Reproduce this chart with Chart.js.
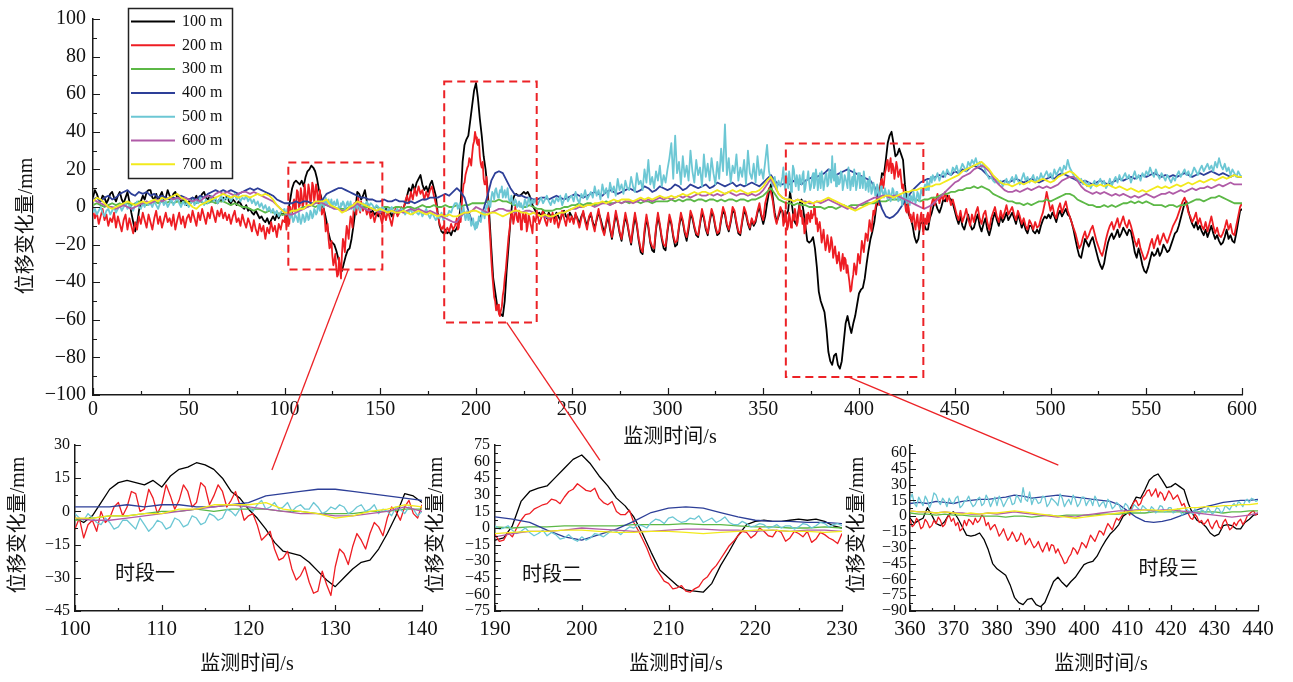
<!DOCTYPE html>
<html><head><meta charset="utf-8">
<script src="https://cdn.jsdelivr.net/npm/chart.js@4.4.1/dist/chart.umd.min.js"></script>
<style>
html,body{margin:0;padding:0;background:#fff;}
#wrap{position:relative;width:1293px;height:682px;overflow:hidden;background:#fff;}
#wrap canvas{position:absolute;left:0;top:0;}
</style></head><body>
<div id="wrap">
<canvas id="c0" width="1293" height="682"></canvas>
<canvas id="c1" width="1293" height="682"></canvas>
<canvas id="c2" width="1293" height="682"></canvas>
<canvas id="c3" width="1293" height="682"></canvas>
<canvas id="ov" width="1293" height="682"></canvas>
</div>
<script>
// ---------------- data ----------------
const SERIES_NAMES = ['100 m','200 m','300 m','400 m','500 m','600 m','700 m'];
const X_TITLE = '监测时间/s';
const Y_TITLE = '位移变化量/mm';
const TAGS = ['时段一','时段二','时段三'];

// 1 s sampling (t = 0..600)
const BLACK = [
5,9,7,4,3,6,5,2,4,7, 8,5,3,6,8,4,2,5,8,3, -3,-8,-13,-9,-2,3,6,4,8,9, 9,5,4,7,3,6,8,4,5,9,
6,4,7,8,5,6,3,4,2,1, 3,2,5,4,6,3,5,7,8,5, 4,6,3,5,4,2,4,3,5,4, 6,3,2,4,3,1,3,2,0,-1,
1,-2,-1,-3,-4,-2,-4,-6,-5,-7, -8,-6,-9,-7,-5,-7,-4,-6,-3,-4,
-3,-5,-2,4,10,13,14,13,12,14, 11,16,19,20,22,21,19,15,9,6, 1,-3,-8,-14,-18,-19,-20,-23,-27,-31,
-34,-30,-26,-23,-22,-17,-10,-2,8,7, 4,6,9,3,-1,-3,-2,-4,-3,-5, -2,-4,-3,-1,-4,-2,-5,-3,-2,-4,
-3,-2,-1,2,6,10,8,12,9,13, 15,17,12,9,11,8,12,14,10,6, -3,-10,-13,-14,-12,-14,-13,-15,-12,-13,
-11,-9,2,24,33,36,38,46,54,62, 66,58,47,38,27,20,10,-5,-22,-38, -45,-52,-56,-57,-58,-50,-34,-21,-7,3,
6,7,6,6,7,8,7,8,6,2, 0,-2,-4,-3,-5,-2,-4,-6,-3,-5, -4,-6,-3,-5,-7,-4,-2,-5,-6,-3,
-5,-8,-4,-6,-9,-5,-3,-7,-10,-6, -4,-8,-11,-7,-3,-6,-10,-14,-9,-5, -12,-17,-10,-4,-8,-14,-18,-11,-5,-9,
-15,-20,-12,-5,-10,-18,-24,-25,-14,-6, -11,-19,-23,-24,-12,-5,-10,-17,-22,-23,
-13,-6,-9,-16,-21,-20,-11,-5,-8,-14, -18,-12,-4,-6,-11,-15,-16,-9,-3,-6, -12,-15,-8,-3,-5,-11,-15,-14,-7,-2,
-4,-10,-13,-8,-2,-3,-9,-14,-15,-8, -2,-4,-9,-12,-7,-10,-8,-3,0,-5, -9,-5,2,8,12,5,-3,-8,-5,-2,
-2,-7,-4,-2,8,1,-7,-9,-5,2, 4,-2,-10,-18,-19,-18,-16,-22,-32,-45, -50,-53,-56,-65,-77,-82,-84,-79,-78,-84,
-86,-82,-72,-62,-58,-63,-67,-62,-58,-52, -46,-44,-43,-38,-30,-23,-17,-13,-8,0, 3,10,18,17,25,34,38,40,34,27,
28,31,28,25,12,2,-4,-6,-10,-16, -19,-17,-9,-8,-9,-12,-12,-6,-3,1, 2,-1,-3,0,4,3,6,5,4,2,
-2,-6,-9,-5,-10,-12,-8,-4,-9,-12, -11,-7,-4,-10,-13,-9,-6,-12,-15,-11, -6,-3,-7,-10,-5,-8,-6,-3,-7,-5,
-3,-6,-9,-4,-7,-11,-8,-12,-14,-10, -10,-13,-14,-12,-14,-10,-7,-5,-6,-4,
-6,-3,-5,-8,-4,-2,-5,-3,-1,-4, -5,-8,-12,-17,-22,-26,-27,-22,-17,-19, -21,-18,-16,-20,-24,-28,-31,-33,-30,-24,
-19,-16,-14,-17,-15,-12,-16,-14,-11,-13, -15,-12,-13,-18,-24,-27,-22,-26,-31,-34, -35,-32,-28,-24,-26,-25,-22,-26,-24,-20,
-22,-24,-23,-20,-17,-14,-13,-10,-6,-2, 2,3,-2,-6,-9,-11,-8,-12,-10,-13, -15,-12,-16,-13,-10,-14,-17,-15,-18,-20,
-19,-16,-12,-17,-15,-18,-19,-14,-8,-2, -1
];
const RED = [
-2,-6,-3,-9,-5,-1,-7,-4,-10,-6, -8,-3,-11,-5,-9,-13,-7,-4,-12,-6, -10,-14,-8,-12,-5,-9,-3,-7,-11,-4,
-8,-12,-6,-2,-9,-5,-11,-7,-3,-8, -6,-10,-4,-12,-7,-3,-9,-5,-11,-6, -4,-8,-2,-6,-10,-3,-7,-1,-5,-9,
-3,-6,0,-4,-8,-2,-5,-1,-6,-3, -7,-4,-9,-5,-2,-8,-6,-10,-4,-8, -11,-6,-9,-13,-7,-12,-15,-9,-13,-10,
-17,-11,-14,-8,-13,-10,-16,-9,-12,-7,
-8,-12,-4,0,-3,4,2,8,1,6, 3,7,5,9,4,11,7,9,5,3, -2,-6,-11,-17,-21,-26,-29,-32,-36,-33,
-25,-19,-16,-13,-10,-7,-3,0,2,-1, 3,-2,1,-4,-1,-6,-3,-8,-4,-2, -5,-9,-3,-7,-2,-6,-10,-4,-1,-5,
-3,0,-2,3,6,2,8,4,10,6, 11,7,9,4,8,5,9,11,6,2, -4,-9,-12,-10,-14,-11,-13,-9,-12,-10,
-6,-11,-8,7,13,19,22,25,28,35, 37,33,27,21,15,12,5,-10,-28,-42, -50,-54,-57,-55,-47,-38,-28,-16,-7,-4,
-6,-3,-8,-4,-9,-5,-3,-10,-6,-11, -5,-8,-3,-9,-6,-2,-7,-10,-4,-8, -3,-9,-5,-11,-7,-2,-6,-10,-4,-8,
-5,-9,-3,-7,-11,-6,-2,-8,-12,-5, -3,-9,-13,-6,-1,-7,-12,-15,-8,-3, -11,-16,-9,-2,-7,-13,-17,-10,-3,-8,
-14,-19,-10,-3,-9,-17,-22,-24,-12,-4, -10,-18,-21,-22,-11,-3,-9,-16,-20,-21,
-12,-4,-8,-15,-19,-18,-10,-3,-7,-13, -16,-10,-2,-5,-10,-14,-15,-8,-1,-5, -11,-14,-7,-1,-4,-10,-14,-13,-6,0,
-3,-9,-12,-7,0,-2,-8,-13,-14,-7, 0,-3,-8,-11,-6,-9,-7,-2,2,-4, -7,2,6,10,8,3,-5,-9,-4,0,
-3,-8,-5,-10,-6,-9,-7,-4,-8,1, -2,-6,-12,-9,-5,-2,-4,-1,-6,-10, -13,-16,-18,-20,-19,-22,-19,-24,-26,-28,
-30,-29,-33,-28,-31,-40,-44,-36,-32,-31, -27,-24,-21,-19,-15,-12,-10,-7,-4,2, 5,9,15,12,20,25,22,18,21,19,
21,18,15,12,2,-3,-1,-4,-6,-9, -7,-10,-6,-8,-11,-9,-3,-5,2,5, 3,7,2,6,4,8,3,6,1,4,
0,-4,-7,-2,-8,-5,-1,-6,-10,-4, -8,-3,0,-6,-9,-4,-2,-8,-12,-6, -3,0,-5,-8,-2,-6,-3,1,-4,-2,
0,-4,-7,-2,-5,-9,-6,-10,-12,-7, -9,-12,-8,-11,-10,-6,-3,2,8,3,
-2,1,-4,-6,-1,2,-3,0,3,-2, -5,-8,-11,-14,-18,-22,-20,-16,-13,-17, -15,-12,-10,-14,-18,-21,-24,-26,-22,-17,
-13,-10,-8,-12,-9,-6,-11,-8,-5,-9, -11,-7,-10,-14,-18,-21,-17,-22,-25,-28, -27,-24,-20,-17,-22,-18,-15,-20,-17,-14,
-17,-19,-16,-13,-10,-8,-6,-3,0,3, 5,2,-3,-5,-8,-6,-3,-9,-6,-10, -12,-8,-13,-9,-5,-10,-14,-11,-15,-16,
-14,-11,-7,-12,-9,-14,-15,-10,-5,0, 2
];
const CYAN = [
-3,-1,-4,-2,0,-3,-5,-2,-1,-4, -2,0,-3,-1,1,-2,0,2,-1,1, 0,-2,1,3,0,-1,2,0,3,1, 2,0,3,1,-1,2,4,1,3,0,
2,4,1,3,5,2,0,3,1,2, 0,2,4,1,3,2,5,3,1,4, 2,4,6,3,5,2,4,6,3,5, 4,6,3,5,7,4,6,3,5,4,
6,3,5,2,4,1,3,0,2,-1, 1,-2,0,-3,-1,-4,-2,-5,-3,-2,
-1,-4,-3,-6,-5,-7,-4,-8,-6,-7, -5,-7,-4,-6,-3,-5,-2,-3,0,1, 2,3,1,4,2,0,3,1,2,0, 1,2,0,3,1,-1,0,2,-1,1,
0,2,1,3,0,2,1,-1,1,0, -2,0,-1,-3,-1,-2,0,-3,-2,-1, -3,-1,-2,-4,-2,-3,-1,-4,-2,-3, -4,-2,-5,-3,-1,-4,-6,-3,-5,-7,
-5,-6,-3,-7,-4,-5,-2,-3,0,2, 2,0,-2,-3,-4,-5,-7,-6,-9,-10,
-8,-9,-6,-5,-3,-2,0,2,5,7, 9,7,6,8,5,9,7,5,3,4, 2,3,1,0,2,1,3,2,4,3, 2,4,1,3,5,2,4,6,3,1,
4,2,5,3,6,1,4,7,3,5, 6,3,8,4,2,7,5,9,4,6, 8,5,11,6,9,4,12,7,10,5, 13,8,11,6,15,9,12,7,14,10,
9,16,11,8,18,12,14,9,20,13, 25,12,16,10,19,14,22,11,17,13,
20,26,34,15,38,18,24,12,27,16, 22,14,30,19,13,25,17,21,11,28, 16,23,14,26,18,12,24,15,31,19,
44,17,26,13,22,18,28,14,21,16, 25,12,30,18,15,23,13,27,17,20, 15,24,33,19,14,11,16,9,14,11,
16,12,18,10,15,13,20,11,14,17, 12,19,10,15,13,11,18,12,16,14, 10,15,13,18,12,17,27,14,11,16,
13,18,12,15,10,17,13,11,16,12, 18,14,10,15,12,8,13,9,11,7, 10,6,9,5,8,4,7,6,9,5,
8,4,6,3,5,2,4,6,3,5, 4,7,5,8,10,9,12,14,13,16, 15,18,14,17,19,16,20,18,17,21,
19,22,18,20,23,21,19,24,22,25, 23,26,22,24,21,23,19,17,15,16, 14,13,15,12,14,11,13,15,12,14,
16,13,17,14,12,15,18,14,16,13, 15,17,13,16,14,18,15,17,19,16,
18,15,20,17,19,21,18,22,20,25, 21,19,17,15,16,13,15,12,14,11, 13,10,12,14,11,13,15,12,14,10,
12,15,11,14,16,13,17,14,16,18, 15,17,13,16,19,15,17,14,18,16, 19,17,21,18,16,20,17,15,18,16,
14,17,15,13,16,14,17,19,16,18, 20,17,19,16,18,21,19,17,20,22, 19,21,23,20,22,19,24,21,26,22,
20,23,19,21,17,20,18,16,19,17, 16
];
// half-second readings inside the three zoom windows (t = start+0.5, start+1.5, ...)
const WINDOW_START = [100, 190, 360];
const RED_MID = [
 [-3,-6,-9,-5,2,-2,9,0,10,-1, 12,1,12,2,13,3,12,2,9,-4, -1,-13,-9,-22,-18,-31,-25,-37,-27,-38, -17,-24,-10,-17,-5,-11,2,-4,5,-3],
 [-12,-4,0,12,17,21,26,22,33,40, 34,36,23,24,12,16,-2,-18,-36,-48, -55,-52,-58,-53,-44,-34,-22,-12,-3,-9, 0,-7,-2,-12,-3,-8,-13,-4,-9,-14],
 [-10,-2,-12,-3,-11,-4,-1,-10,-2,-5, -9,-14,-4,-3,-8,-6,1,-9,-13,-8, -19,-12,-23,-15,-24,-16,-27,-21,-30,-24,
  -34,-25,-27,-35,-36,-45,-39,-30,-36,-25, -30,-18,-24,-14,-18,-7,-13,-2,-1,6, 1,14,10,18,24,19,26,23,15,24,
  16,20,10,6,-2,2,-6,-8,-3,-12, -4,-12,-3,-13,-6,-5,-8,0,4,1]
];
const CYAN_MID = [
 [-3,-1,-5,-3,-8,-4,-6,-3,-9,-4, -8,-3,-7,-2,-6,-1,-4,1,-2,3, 0,5,2,1,4,2,1,4,-1,2, 3,-1,2,0,3,1,-2,1,2,-2],
 [-1,2,-5,0,-7,-2,-4,-10,-6,-12, -11,-5,-8,-2,-6,1,3,0,8,4, 10,5,9,11,7,5,10,3,6,1, 4,0,3,2,-1,4,0,5,1,4],
 [21,9,14,19,8,22,14,17,9,13, 17,8,14,19,9,16,10,20,9,18, 19,9,17,11,20,13,16,23,17,12, 19,9,17,13,21,9,16,20,9,18,
  10,16,19,9,14,16,7,13,6,12, 5,11,7,10,6,9,3,10,4,8, 3,7,1,7,4,7,1,5,8,2, 8,3,10,6,12,14,9,16,17,14]
];
// 2 s sampling (t = 0,2,..,600)
const GREEN = [
1,2,1,0,1,2,1,2,1,2, 1,2,3,2,1,2,3,2,3,2, 3,2,3,2,3,2,3,2,3,2, 2,3,2,3,3,2,1,2,1,0,
0,-1,-2,-1,-2,-3,-2,-3,-3,-4, -4,-3,-2,-2,-1,0,0,1,0,1, 1,1,0,0,-1,-1,-1,0,0,1, 1,0,0,-1,0,-1,0,0,-1,0,
0,-1,0,0,-1,0,1,0,0,1, 0,0,1,0,0,1,0,1,1,2, 2,2,2,3,3,3,4,3,3,2, 1,1,0,0,1,0,-1,-1,-2,-2,
-2,-1,-1,0,0,1,1,2,1,2, 2,1,2,2,3,2,2,3,2,3, 2,3,3,2,3,3,2,3,3,3, 3,4,3,4,3,4,4,3,4,4,
3,4,4,3,4,3,4,4,3,4, 4,3,4,4,5,6,8,10,7,4, 3,2,2,1,2,1,1,0,0,0, 0,-1,0,0,-1,0,1,0,1,1,
1,1,2,2,2,3,3,3,4,4, 4,4,3,4,4,4,3,4,4,5, 5,6,7,7,8,8,9,9,10,10, 11,10,11,10,9,7,6,5,4,3,
3,2,2,1,2,1,2,3,3,4, 3,4,5,6,7,7,6,4,3,2, 1,1,0,0,1,0,1,0,1,2, 2,3,2,3,2,3,2,1,1,1,
0,1,1,0,1,1,2,3,4,4, 3,4,5,5,6,5,4,3,2,2, 2
];
const BLUE = [
4,5,3,5,6,4,5,7,8,9, 7,6,8,7,8,6,7,5,6,5, 4,5,4,6,5,4,5,4,6,5, 7,8,9,8,9,8,9,8,7,8,
9,10,9,10,9,8,7,6,4,3, 2,2,2,3,2,3,3,2,2,3, 4,7,8,9,10,10,9,8,7,6, 5,5,4,4,3,3,4,3,3,4,
3,3,2,3,2,3,4,4,5,5, 5,6,7,6,8,10,8,5,-2,-8, -11,-6,-1,6,14,18,19,18,14,10, 7,6,6,5,5,4,4,5,5,4,
5,6,5,4,5,6,7,6,5,6, 7,8,7,6,8,9,8,7,8,9, 10,9,8,9,11,10,8,9,11,10, 9,10,12,11,9,10,12,11,10,11,
12,10,11,13,12,11,12,13,11,12, 11,12,13,12,11,13,15,17,14,12, 12,13,12,14,13,12,14,15,16,16,
17,18,20,19,17,18,19,20,19,18, 17,16,15,14,11,5,-1,-5,-6,-5, -3,0,3,6,9,11,13,14,15,15,
16,17,16,18,17,19,18,20,19,21, 22,21,20,18,16,15,14,13,14,13, 14,15,14,13,14,15,14,13,14,15,
16,15,17,18,17,16,15,14,13,14, 13,12,13,14,13,12,13,14,15,14, 15,16,15,16,17,16,17,18,17,16,
17,16,17,16,17,18,17,16,17,18, 17,18,19,18,17,18,17,16,17,16, 16
];
const PURPLE = [
4,3,2,1,0,0,-1,0,1,0, -1,0,1,2,3,2,3,4,3,4, 5,4,5,4,5,4,3,4,3,5, 6,5,7,8,7,8,7,6,7,8,
8,7,8,7,6,5,4,3,1,-1, -3,-4,-4,-3,-2,-1,0,1,2,3, 2,1,0,-1,-1,-2,-2,-1,0,2, 0,-1,-2,-1,-2,-3,-2,-3,-2,-3,
-2,-3,-2,-1,-2,-1,-2,-3,-2,-3, -4,-5,-6,-7,-8,-8,-5,-3,-3,-2, 0,-1,-2,-3,-3,-2,-1,-1,-2,-2, -3,-2,-3,-2,-2,-3,-4,-5,-5,-6,
-5,-4,-3,-3,-2,-1,-1,0,0,1, 1,0,1,2,2,1,2,3,2,3, 3,2,3,4,3,4,3,4,5,4, 5,4,5,6,5,6,5,6,7,6,
6,7,6,7,6,7,8,7,6,7, 7,6,7,6,7,9,12,15,11,7, 5,4,4,3,4,3,3,2,2,3, 2,3,4,3,2,1,0,-1,0,-1,
1,2,3,4,5,5,6,6,5,6, 6,5,4,3,2,1,0,-1,0,1, 3,5,7,9,11,13,14,16,17,18, 20,21,22,21,19,16,13,11,9,8,
8,9,8,9,10,9,10,11,10,11, 10,11,12,14,15,16,16,14,11,9, 8,7,8,7,8,7,6,7,6,7, 6,5,6,5,6,7,6,5,6,7,
7,8,7,8,9,8,9,10,9,10, 10,11,10,11,12,11,12,13,12,12, 12
];
const YELLOW = [
3,5,4,2,0,-1,0,1,2,3, 2,1,2,3,2,3,4,3,5,4, 5,6,7,5,4,2,0,-1,1,2, 3,4,5,6,7,6,5,6,5,6,
6,5,6,7,6,7,6,4,1,-1, -3,-3,-2,-2,-1,-1,1,1,3,3, 3,4,1,0,-1,-3,-2,0,1,3, 2,1,0,-1,-2,-1,-2,-3,-2,-3,
-3,-2,-3,-4,-3,-2,-3,-4,-3,-4, -5,-4,-5,-4,-5,-5,-4,-3,-3,-2, -2,-3,-4,-4,-3,-3,-4,-5,-4,-3, -2,-2,-3,-3,-4,-3,-4,-5,-4,-5,
-5,-4,-3,-3,-2,-1,0,1,0,1, 1,2,2,3,2,3,4,3,4,4, 4,3,4,5,4,5,4,5,6,5, 5,6,5,6,7,6,7,8,7,8,
8,7,8,9,8,7,8,9,8,9, 8,7,8,8,9,11,14,16,12,7, 5,4,4,3,4,3,2,3,2,3, 3,4,5,4,3,2,1,0,-1,-2,
-1,0,1,2,3,4,5,6,6,5, 6,7,8,8,9,9,10,10,11,11, 12,12,13,14,15,16,17,19,20,21, 22,23,24,22,20,17,15,13,12,12,
11,12,13,12,13,14,13,14,15,14, 13,14,16,17,18,19,18,16,14,12, 11,12,11,12,11,12,11,10,11,10, 9,10,9,8,9,8,9,10,11,10,
11,10,11,12,11,12,13,12,13,14, 13,14,15,14,15,16,15,16,17,16, 16
];

const COLORS = ['#000000','#ee1d23','#5cb846','#2d3f98','#6cc7d4','#b05ba7','#f2ea1c'];
const SERIES_VALUES = [BLACK, RED, GREEN, BLUE, CYAN, PURPLE, YELLOW];
const SERIES_MIDS = [null, RED_MID, null, null, CYAN_MID, null, null];
const SERIES_STEP = [1, 1, 2, 2, 1, 2, 2];   // sampling interval, s

// tick values
const MAIN_X_TICKS = [0,50,100,150,200,250,300,350,400,450,500,550,600];
const MAIN_Y_TICKS = [-100,-80,-60,-40,-20,0,20,40,60,80,100];
const IN1_X_TICKS = [100,110,120,130,140];
const IN1_Y_TICKS = [-45,-30,-15,0,15,30];
const IN2_X_TICKS = [190,200,210,220,230];
const IN2_Y_TICKS = [-75,-60,-45,-30,-15,0,15,30,45,60,75];
const IN3_X_TICKS = [360,370,380,390,400,410,420,430,440];
const IN3_Y_TICKS = [-90,-75,-60,-45,-30,-15,0,15,30,45,60];

// zoom windows drawn on the main chart (data units)
const BOX_T0 = [102.0, 183.4, 361.8];
const BOX_T1 = [151.1, 231.7, 433.6];
const BOX_V0 = [-33.3, -61.4, -90.4];
const BOX_V1 = [23.7, 66.7, 33.8];
// connector lines: main (t0,v0) -> inset k (t1,v1)
const LINK_T0 = [133.3, 216.0, 394.4];
const LINK_V0 = [-33.3, -61.4, -90.4];
const LINK_T1 = [122.7, 202.1, 394.1];
const LINK_V1 = [18.7, 61.2, 48.4];
// tag position in each inset (data units)
const TAG_T = [104.6, 193.1, 412.5];
const TAG_V = [-28.7, -42.7, -51.2];

// ---------------- layout ----------------
const W = 1293, H = 682;
const SERIF = '"Liberation Serif", "Times New Roman", serif';
const TITLE_FONT = '20px "Liberation Serif", "Noto Sans CJK SC", sans-serif';
const PANELS = [
  {id:'c0', x:[0,600,50,25], y:[-100,100,20,10], xt:MAIN_X_TICKS, yt:MAIN_Y_TICKS,
   area:[93,15,1242,395], yW:93, xH:65,
   lw:1.8, xFont:20, yFont:20, xPad:3, yPad:7, major:7, minor:4,
   xTitle:[670,438], yTitle:[27,226]},
  {id:'c1', x:[100,140,10,5], y:[-45,30,15,7.5], xt:IN1_X_TICKS, yt:IN1_Y_TICKS,
   area:[75,445,422,611], yW:40, xH:40,
   lw:1.3, xFont:21, yFont:16, xPad:6, yPad:5, major:6, minor:3,
   xTitle:[247,665], yTitle:[19,525], tag:0},
  {id:'c2', x:[190,230,10,5], y:[-75,75,15,7.5], xt:IN2_X_TICKS, yt:IN2_Y_TICKS,
   area:[495,445,842,611], yW:40, xH:40,
   lw:1.3, xFont:21, yFont:16, xPad:6, yPad:5, major:6, minor:3,
   xTitle:[676,665], yTitle:[437,525], tag:1},
  {id:'c3', x:[360,440,10,5], y:[-90,67.5,15,7.5], xt:IN3_X_TICKS, yt:IN3_Y_TICKS,
   area:[910,445,1258,611], yW:40, xH:40,
   lw:1.3, xFont:21, yFont:16, xPad:6, yPad:3, major:6, minor:3,
   xTitle:[1101,665], yTitle:[858,525], tag:2}
];

const isMul = (v, s) => Math.abs(v / s - Math.round(v / s)) < 1e-6;
const minus = v => String(v).replace('-', '\u2212');

const decor = {
  id: 'decor',
  afterDraw(chart, args, o) {
    const ctx = chart.ctx, xs = chart.scales.x, ys = chart.scales.y, a = chart.chartArea;
    const P = o.panel;
    ctx.save();
    // inward tick marks
    ctx.strokeStyle = '#1a1a1a'; ctx.lineWidth = 1.2; ctx.beginPath();
    for (let k = 0; ; k++) {
      const v = P.x[0] + k * P.x[3]; if (v > P.x[1] + 1e-9) break;
      const px = Math.round(xs.getPixelForValue(v)) + 0.5;
      const L = isMul(v, P.x[2]) ? P.major : P.minor;
      ctx.moveTo(px, a.bottom); ctx.lineTo(px, a.bottom - L);
    }
    for (let k = 0; ; k++) {
      const v = P.y[0] + k * P.y[3]; if (v > P.y[1] + 1e-9) break;
      const py = Math.round(ys.getPixelForValue(v)) + 0.5;
      const L = isMul(v, P.y[2]) ? P.major : P.minor;
      ctx.moveTo(a.left, py); ctx.lineTo(a.left + L, py);
    }
    ctx.stroke();
    // axis titles
    ctx.fillStyle = '#111'; ctx.font = TITLE_FONT; ctx.textAlign = 'center'; ctx.textBaseline = 'middle';
    ctx.fillText(X_TITLE, P.xTitle[0], P.xTitle[1]);
    ctx.save(); ctx.translate(P.yTitle[0], P.yTitle[1]); ctx.rotate(-Math.PI / 2);
    ctx.fillText(Y_TITLE, 0, 0); ctx.restore();
    // period tag
    if (P.tag !== undefined) {
      ctx.textAlign = 'left';
      ctx.fillText(TAGS[P.tag], xs.getPixelForValue(TAG_T[P.tag]), ys.getPixelForValue(TAG_V[P.tag]));
    }
    if (P.id === 'c0') {
      // dashed zoom boxes
      ctx.strokeStyle = '#ec2226'; ctx.lineWidth = 2; ctx.setLineDash([8, 5]);
      for (let i = 0; i < BOX_T0.length; i++) {
        const x0 = xs.getPixelForValue(BOX_T0[i]), x1 = xs.getPixelForValue(BOX_T1[i]);
        const y0 = ys.getPixelForValue(BOX_V1[i]), y1 = ys.getPixelForValue(BOX_V0[i]);
        ctx.strokeRect(x0, y0, x1 - x0, y1 - y0);
      }
      ctx.setLineDash([]);
      // legend
      const lx = 128, ly = 8, lw = 104, lh = 170;
      ctx.fillStyle = '#fff'; ctx.fillRect(lx, ly, lw, lh);
      ctx.strokeStyle = '#222'; ctx.lineWidth = 1.5; ctx.strokeRect(lx + 0.5, ly + 0.5, lw, lh);
      ctx.font = '16px ' + SERIF; ctx.textAlign = 'left'; ctx.textBaseline = 'middle';
      SERIES_NAMES.forEach((n, i) => {
        const yy = ly + 13.5 + i * 23.8;
        ctx.strokeStyle = COLORS[i]; ctx.lineWidth = 2;
        ctx.beginPath(); ctx.moveTo(lx + 3, yy); ctx.lineTo(lx + 47, yy); ctx.stroke();
        ctx.fillStyle = '#111'; ctx.fillText(n, lx + 54, yy);
      });
    }
    ctx.restore();
  }
};

function seriesPoints(i) {
  const vals = SERIES_VALUES[i], step = SERIES_STEP[i], mids = SERIES_MIDS[i];
  const pts = [];
  vals.forEach((v, j) => {
    const t = j * step;
    pts.push({x: t, y: v});
    if (mids) {
      for (let k = 0; k < WINDOW_START.length; k++) {
        const idx = t - WINDOW_START[k];
        if (idx >= 0 && idx < mids[k].length) pts.push({x: t + 0.5, y: mids[k][idx]});
      }
    }
  });
  return pts;
}

function makeDatasets(lw) {
  return SERIES_VALUES.map((vals, i) => ({
    label: SERIES_NAMES[i],
    data: seriesPoints(i),
    borderColor: COLORS[i], backgroundColor: COLORS[i],
    borderWidth: lw, pointRadius: 0, tension: 0, fill: false,
    borderJoinStyle: 'round', order: SERIES_VALUES.length - i
  }));
}

const charts = PANELS.map(P => {
  const [l, t, r, b] = P.area;
  const cfg = {
    type: 'line',
    data: {datasets: makeDatasets(P.lw)},
    options: {
      responsive: false, animation: false, devicePixelRatio: 1, events: [],
      layout: {padding: {left: l - P.yW, top: t, right: W - r, bottom: H - b - P.xH}},
      plugins: {legend: {display: false}, tooltip: {enabled: false}, decor: {panel: P}},
      scales: {
        x: {type: 'linear', min: P.x[0], max: P.x[1],
            afterFit: s => { s.height = P.xH; },
            afterBuildTicks: s => { s.ticks = P.xt.map(v => ({value: v})); },
            grid: {display: false, drawTicks: false}, border: {display: true, color: '#1a1a1a', width: 1.5},
            ticks: {autoSkip: false, maxRotation: 0, padding: P.xPad, color: '#111',
                    font: {family: SERIF, size: P.xFont}, callback: v => minus(v)}},
        y: {type: 'linear', min: P.y[0], max: P.y[1],
            afterFit: s => { s.width = P.yW; },
            afterBuildTicks: s => { s.ticks = P.yt.map(v => ({value: v})); },
            grid: {display: false, drawTicks: false}, border: {display: true, color: '#1a1a1a', width: 1.5},
            ticks: {autoSkip: false, padding: P.yPad, color: '#111',
                    font: {family: SERIF, size: P.yFont}, callback: v => minus(v)}}
      }
    },
    plugins: [decor]
  };
  return new Chart(document.getElementById(P.id), cfg);
});

// connector lines from the zoom boxes to the insets
const ov = document.getElementById('ov').getContext('2d');
ov.strokeStyle = '#ec2226'; ov.lineWidth = 1.3;
for (let k = 0; k < LINK_T0.length; k++) {
  const m = charts[0].scales, s = charts[k + 1].scales;
  ov.beginPath();
  ov.moveTo(m.x.getPixelForValue(LINK_T0[k]), m.y.getPixelForValue(LINK_V0[k]));
  ov.lineTo(s.x.getPixelForValue(LINK_T1[k]), s.y.getPixelForValue(LINK_V1[k]));
  ov.stroke();
}
</script>
</body></html>
